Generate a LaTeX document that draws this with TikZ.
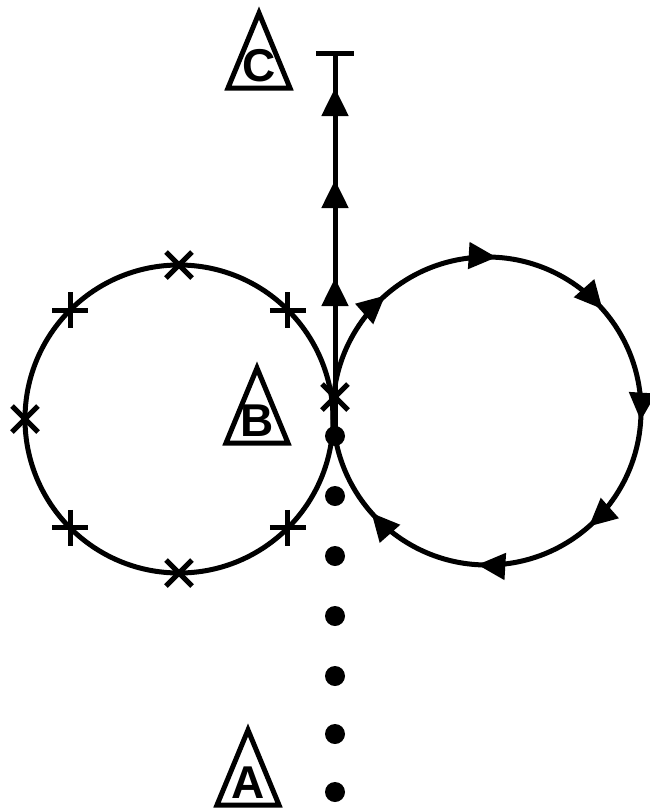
\documentclass[tikz,border=0pt]{standalone}
\usepackage{fontspec}
\setmainfont{Liberation Sans}
\usetikzlibrary{arrows.meta,decorations.markings}
\tikzset{
  line/.style={line width=5pt},
  bigtip/.tip={Triangle[length=28pt,width=26pt]},
  dot/.style={circle,fill,inner sep=0pt,minimum size=20pt},
  letter/.style={inner sep=0pt,font=\bfseries\fontsize{46}{46}\selectfont},
  crossmark/.pic={\draw[line] (-13,-13) -- (13,13) (-13,13) -- (13,-13);},
  plusmark/.pic={\draw[line] (-18,0) -- (18,0) (0,-18) -- (0,18);}
}
\begin{document}
\begin{tikzpicture}[x=1pt,y=-1pt]
    \useasboundingbox (0,0) rectangle (649,809);
    % Left circle with marks
    \coordinate (L) at (179,419);
    \draw[line] (L) circle (154pt);
    \foreach \a in {45,135,225,315} \pic at ([shift={(\a:154)}]L) {plusmark};
    \foreach \a in {90,180,270} \pic at ([shift={(\a:154)}]L) {crossmark};
    % Right circle, clockwise arrows
    \coordinate (R) at (487,411);
    \draw[line,postaction={decorate},
      decoration={markings,mark=between positions 0.135 and 0.9 step 0.125 with {\arrow{bigtip}}}]
      (333,411) arc[start angle=180,end angle=-180,radius=154pt];
    % Dots
    \foreach \y [count=\i] in {436,496,556,616,676,734,792}
      \node[dot] (d\i) at (335,\y) {};
    % Vertical line
    \coordinate (top) at (335,53);
    \draw[line,postaction={decorate},
      decoration={markings,
        mark=at position 158pt with {\arrow{bigtip}},
        mark=at position 256pt with {\arrow{bigtip}},
        mark=at position 348pt with {\arrow{bigtip}}}]
      (d1.center) -- (top);
    \draw[line] ([xshift=-19pt]top) -- ([xshift=19pt]top);
    \pic at (335,397) {crossmark};
    % Labels
    \foreach \name/\x/\y in {C/259/66,B/257/421,A/248/783} {
      \node[letter] (\name) at (\x,\y) {\name};
      \draw[line] (\name.center) ++(0,-53) -- ++(-31,75) -- ++(62,0) -- cycle;
    }
\end{tikzpicture}
\end{document}
